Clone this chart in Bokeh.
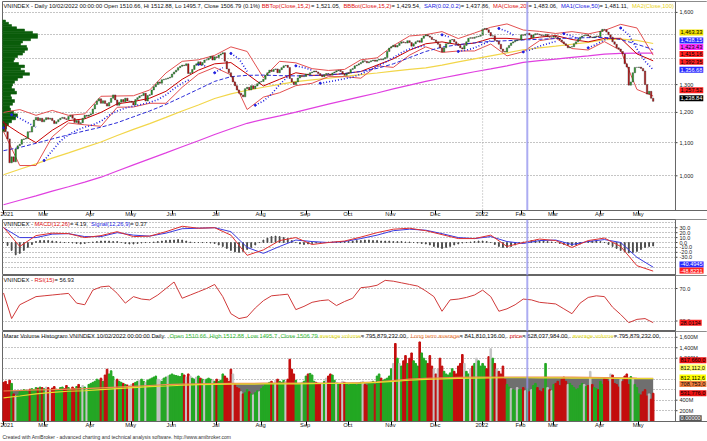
from bokeh.plotting import figure
from bokeh.models import Range1d, FixedTicker, Span, Title, ColumnDataSource
from bokeh.layouts import column
from bokeh.embed import file_html
from bokeh.resources import INLINE
from bokeh.core.properties import value

# ------------------------------------------------------------------ data
month_names = ["2021", "Feb", "Mar", "Apr", "May", "Jun", "Jul", "Aug", "Sep", "Oct",
               "Nov", "Dec", "2022", "Feb", "Mar", "Apr", "May"]
month_len = [5, 15, 23, 20, 20, 22, 22, 22, 21, 21, 22, 23, 19, 16, 23, 19, 8]

first_open = 1170
close_2021 = [
    1163, 1135, 1112, 1038, 1056,
    1041, 1080, 1090, 1095, 1110, 1112, 1114, 1135, 1134, 1152, 1174, 1183, 1172, 1180, 1168,
    1175, 1182, 1177, 1180, 1172, 1162, 1168, 1175, 1180, 1183, 1178, 1176, 1186, 1190, 1180, 1166, 1172, 1162, 1165, 1180, 1190, 1187, 1191,
    1195, 1212, 1228, 1240, 1248, 1232, 1241, 1231, 1222, 1235, 1250, 1262, 1244, 1225, 1236, 1245, 1237, 1250, 1240, 1239,
    1236, 1226, 1245, 1252, 1258, 1260, 1268, 1240, 1260, 1263, 1280, 1292, 1300, 1310, 1305, 1318, 1320, 1322, 1325, 1328,
    1340, 1348, 1355, 1365, 1370, 1375, 1373, 1380, 1342, 1345, 1358, 1374, 1380, 1388, 1375, 1385, 1395, 1396, 1402, 1410, 1395, 1408,
    1405, 1415, 1420, 1425, 1390, 1360, 1345, 1330, 1310, 1296, 1280, 1268, 1262, 1255, 1285, 1290, 1280, 1296, 1285, 1295, 1303, 1310,
    1312, 1320, 1335, 1345, 1355, 1350, 1358, 1360, 1345, 1357, 1365, 1372, 1374, 1366, 1323, 1310, 1300, 1310, 1325, 1335, 1330, 1331,
    1340, 1338, 1345, 1348, 1352, 1348, 1342, 1335, 1330, 1337, 1342, 1340, 1336, 1344, 1348, 1353, 1355, 1350, 1340, 1335, 1342,
    1345, 1358, 1362, 1372, 1375, 1380, 1385, 1392, 1390, 1384, 1388, 1392, 1395, 1390, 1395, 1398, 1396, 1400, 1405, 1430, 1444,
    1450, 1456, 1448, 1455, 1464, 1470, 1467, 1465, 1475, 1467, 1452, 1462, 1470, 1475, 1468, 1485, 1495, 1500, 1495, 1490, 1480, 1478,
    1470, 1460, 1445, 1428, 1445, 1462, 1465, 1478, 1480, 1470, 1462, 1455, 1445, 1440, 1455, 1470, 1485, 1488, 1485, 1490, 1492, 1494, 1498,
]
close_2022 = [
    1525, 1528, 1522, 1510, 1495, 1496, 1476, 1473, 1460, 1440, 1430, 1428, 1445, 1455, 1465, 1470, 1475, 1478, 1478,
    1500, 1498, 1503, 1507, 1499, 1487, 1500, 1505, 1503, 1500, 1497, 1496, 1502, 1492, 1490, 1490,
    1495, 1490, 1485, 1478, 1470, 1462, 1455, 1445, 1448, 1450, 1462, 1470, 1480, 1490, 1495, 1497, 1500, 1495, 1490, 1488, 1492, 1495, 1492,
    1515, 1524, 1522, 1512, 1500, 1490, 1470, 1460, 1445, 1440, 1430, 1420, 1380, 1367, 1298, 1310, 1345, 1366, 1366,
    1367, 1362, 1352, 1300, 1265, 1275, 1250, 1238.84,
]

volume_2021 = [
    740, 760, 700, 780, 720,
    520, 480, 500, 560, 580, 600, 590, 560, 610, 620, 600, 640, 630, 650, 640,
    620, 650, 640, 600, 630, 660, 610, 590, 640, 650, 620, 680, 640, 600, 650, 620, 660, 700, 640, 680, 650, 620, 700,
    720, 740, 760, 800, 780, 820, 760, 880, 990, 900, 960, 850, 780, 800, 760, 740, 720, 700, 690, 680,
    700, 720, 740, 760, 780, 800, 760, 740, 780, 800, 820, 840, 860, 800, 780, 760, 820, 840, 860, 880,
    900, 880, 870, 860, 850, 910, 880, 840, 900, 860, 820, 800, 840, 860, 820, 800, 780, 800, 820, 800, 780, 760,
    800, 760, 780, 900, 860, 820, 760, 990, 900, 700, 640, 620, 560, 520, 540, 600, 560, 520, 500, 540, 580, 560,
    620, 660, 700, 720, 740, 760, 720, 780, 800, 760, 740, 780, 760, 800, 1180, 990, 900, 780, 700, 720, 740, 760,
    860, 900, 910, 880, 760, 740, 720, 700, 720, 760, 820, 860, 900, 880, 780, 740, 720, 700, 760, 740, 720,
    680, 700, 720, 700, 680, 720, 740, 760, 700, 680, 720, 740, 760, 700, 860, 900, 820, 780, 800, 820, 860,
    1000, 1100, 1480, 1200, 1100, 1050, 1150, 1250, 1100, 1200, 1300, 1150, 1100, 1050, 1510, 1300, 1200, 1150, 1100, 1250, 1050, 1000,
    900, 1000, 1200, 1050, 950, 900, 880, 920, 1000, 950, 900, 1050, 1100, 1270, 1100, 950, 900, 1000, 1050, 1100, 1200, 1150, 1050,
]
volume_2022 = [
    1100, 1050, 1000, 1230, 1380, 1200, 1100, 1000, 950, 900, 1050, 800, 700, 650, 620, 600, 580, 640, 600,
    600, 640, 580, 620, 560, 600, 680, 720, 640, 580, 560, 620, 1100, 640, 600, 580,
    700, 720, 760, 680, 800, 840, 760, 700, 720, 680, 640, 600, 620, 680, 720, 700, 660, 680, 950, 700, 640, 620, 600,
    760, 700, 820, 800, 760, 900, 880, 720, 700, 650, 800, 760, 860, 900, 700, 850, 820, 700, 640,
    520, 500, 560, 600, 480, 520, 420, 532,
]
gray_bars = [6, 21, 23, 39, 41, 55, 62, 63, 67, 70, 76, 77, 81, 90, 92, 95, 99, 103, 113, 117,
             123, 126, 134, 139, 147, 157, 159, 164, 167, 177, 192, 195, 212, 214, 227, 230, 233,
             240, 243, 250, 253, 257, 260, 268, 270, 278, 286, 289, 299, 304, 310, 318]

# indicator lines sampled every 8 bars (bar 0, 8, ..., 320)
ma200 = [920, 932, 944, 957, 969, 982, 996, 1014, 1032, 1050, 1068, 1087, 1106, 1126, 1145, 1163, 1176,
         1188, 1201, 1215, 1229, 1242, 1256, 1269, 1284, 1298, 1312, 1325, 1337, 1349, 1360, 1372, 1386,
         1393, 1399, 1406, 1412, 1419, 1422, 1423, 1423]
ma100 = [1003, 1019, 1035, 1052, 1068, 1085, 1102, 1123, 1143, 1162, 1183, 1205, 1226, 1249, 1266, 1279,
         1290, 1301, 1311, 1318, 1324, 1331, 1338, 1344, 1351, 1358, 1364, 1375, 1388, 1400, 1412, 1424,
         1437, 1445, 1452, 1460, 1468, 1479, 1482, 1476, 1463]
ma50 = [1075, 1085, 1098, 1112, 1125, 1138, 1150, 1165, 1185, 1205, 1228, 1255, 1283, 1312, 1330, 1335,
        1336, 1334, 1333, 1334, 1337, 1342, 1350, 1362, 1380, 1405, 1430, 1448, 1458, 1466, 1472, 1475,
        1478, 1481, 1484, 1486, 1488, 1489, 1480, 1460, 1438]
ma20 = [1165, 1130, 1100, 1140, 1172, 1178, 1200, 1230, 1238, 1250, 1275, 1320, 1355, 1380, 1385, 1340,
        1295, 1320, 1345, 1335, 1336, 1342, 1350, 1375, 1400, 1435, 1462, 1470, 1458, 1465, 1485, 1485,
        1480, 1490, 1497, 1480, 1470, 1485, 1485, 1420, 1392]
bb_top = [1200, 1210, 1190, 1207, 1190, 1195, 1257, 1258, 1259, 1280, 1344, 1390, 1396, 1414, 1449, 1430,
          1326, 1390, 1384, 1361, 1354, 1358, 1396, 1404, 1454, 1495, 1501, 1514, 1484, 1508, 1533, 1548,
          1521, 1515, 1506, 1514, 1504, 1519, 1546, 1530, 1415]
bb_bot = [1136, 1030, 1030, 1119, 1164, 1158, 1153, 1218, 1219, 1232, 1232, 1290, 1340, 1366, 1337, 1210,
          1254, 1270, 1296, 1305, 1330, 1330, 1324, 1372, 1366, 1415, 1449, 1426, 1432, 1432, 1461, 1412,
          1429, 1475, 1486, 1442, 1436, 1471, 1434, 1282, 1258]
macd = [31, -8, 14, 19, 18, 10, 14, 22, 12, 13, 22, 33, 29, 30, 15, -26, -15, 4, 10, -4, 0, 3, 11, 20,
        27, 29, 24, 16, 8, 8, 15, -8, 0, 7, 4, -10, 4, 9, -8, -47, -58]
signal = [30, 10, 10, 17, 18, 12, 12, 20, 15, 13, 19, 28, 29, 30, 22, -10, -22, -8, 5, 2, 0, 2, 8, 15,
          24, 27, 25, 18, 10, 8, 12, 2, -2, 4, 5, -4, 2, 6, 0, -30, -50]
vol_avg = [445, 480, 520, 550, 570, 580, 600, 620, 640, 660, 670, 685, 695, 700, 705, 705, 710, 710, 712,
           715, 718, 720, 725, 740, 760, 780, 795, 805, 815, 820, 825, 828, 828, 826, 825, 822, 820, 818,
           815, 812, 812]
vol_long = [575, 585, 595, 600, 610, 620, 635, 650, 665, 680, 695, 705, 712, 718, 720, 722, 724, 725, 726,
            727, 728, 730, 735, 750, 775, 800, 815, 828, 836, 840, 842, 842, 842, 841, 840, 838, 835, 832,
            828, 822, 818]
# MACD histogram every 2 bars (0, 2, ..., 320)
macd_hist = [0, -6, -16, -25, -22, -16, -10, -4, 2, 4,
             4, 4, 3, 2, 1, 0, 0, -1, -2, -3,
             -2, 0, 1, 2, 3, 3, 3, 2, 2, 0,
             -2, -3, -3, -2, -1, 0, 0, 1, 2, 3,
             4, 5, 5, 6, 5, 3, 1, 0, 0, 0,
             0, -1, -2, -5, -8, -12, -16, -19, -20, -18,
             -14, -10, -5, 0, 5, 9, 12, 13, 12, 10,
             8, 4, 0, -3, -4, -3, -2, -1, 0, 0,
             1, 1, 1, 1, 2, 2, 3, 4, 4, 5,
             5, 4, 4, 3, 3, 3, 2, 2, 2, 1,
             1, 0, -1, -2, -3, -5, -8, -10, -12, -10,
             -8, -5, -3, -1, 0, 1, 2, 3, 3, 2,
             0, -4, -8, -10, -10, -8, -5, -2, 1, 3,
             4, 4, 3, 3, 2, 1, 0, -2, -4, -6,
             -6, -5, -3, 0, 2, 3, 3, 2, 0, -4,
             -8, -12, -16, -19, -21, -20, -18, -14, -10, -8,
             -7]
# RSI every 4 bars (0, 4, ..., 320)
rsi = [64.5, 33, 50, 55, 60, 61, 62, 63, 64, 52,
       50, 68, 72, 73, 64, 52, 60, 57, 56, 62,
       70, 78, 58, 62, 66, 70, 75, 60, 39, 33,
       35, 46, 55, 61, 62, 63, 44, 48, 53, 55,
       56, 49, 54, 58, 71, 72, 74, 80, 79, 77,
       75, 73, 67, 60, 42, 56, 57, 59, 62, 68,
       60, 42, 45, 50, 57, 56, 53, 52, 51, 45,
       39, 52, 59, 61, 60, 47, 38, 28, 32, 33,
       28]
# SAR segments: (first bar, values every 4 bars)
sar_segments = [
    (0, [1148]), (4, [1192, 1180, 1165, 1150]),
    (20, [1045, 1075, 1105, 1125, 1140, 1150, 1158, 1170, 1190, 1205, 1215, 1222, 1228, 1235, 1245, 1262, 1285, 1305, 1320]),
    (96, [1378, 1370]), (104, [1345, 1365]), (112, [1422, 1400, 1350]),
    (124, [1225, 1240, 1265, 1300, 1330]), (144, [1372, 1365, 1355]),
    (156, [1305, 1310, 1316, 1322, 1328, 1340, 1355, 1370, 1385, 1405, 1425, 1440, 1448, 1455]),
    (216, [1500, 1490]), (224, [1430, 1435, 1445, 1460, 1475]), (244, [1528, 1515, 1495]),
    (256, [1428, 1438, 1452, 1462, 1472]), (276, [1505, 1495, 1480]),
    (288, [1445, 1460, 1478, 1495]), (304, [1530, 1500, 1440, 1390, 1357]),
]
# volume-at-price profile (price level, relative volume)
profile_price = list(range(1140, 1561, 10))
profile_vol = [2, 4, 6, 9, 13, 15, 11, 8, 7, 10, 12, 9, 8, 14, 12, 9, 10, 12, 15, 20, 27, 22, 18, 22,
               16, 11, 12, 15, 20, 22, 25, 24, 18, 20, 28, 35, 35, 30, 22, 14, 9, 6, 3]
selected_bar = 258
year_bar = 236

price_ticks = [1000, 1100, 1200, 1300, 1600]
price_grid = [1000, 1100, 1200, 1300, 1400, 1500, 1600]
macd_ticks = [-30, -20, -10, 0, 10, 20, 30]
macd_grid = [-50, -40, -30, -20, -10, 0, 10, 20, 30, 40]
rsi_ticks = [30, 70]
vol_ticks = [200, 400, 1200, 1400, 1600]
vol_grid = [200, 400, 600, 800, 1000, 1200, 1400, 1600]

# value boxes at the right edge: (value, text, background, text colour, lift in px)
price_boxes = [(1463.33, "1,463.33", "#f2e200", "black", 11), (1438.15, "1,438.15", "#2a2aff", "white", 9),
               (1423.43, "1,423.43", "#ff30ff", "black", 6), (1415.16, "1,415.16", "#ff2020", "black", 1),
               (1392.35, "1,392.35", "#ff2020", "black", -1), (1356.68, "1,356.68", "#2a2aff", "white", 0),
               (1257.52, "1,257.52", "#ff2020", "black", 6), (1238.84, "1,238.84", "#000000", "white", 3)]
macd_boxes = [(-40.4945, "-40.4945", "#2a2aff", "white", -2), (-48.8231, "-48.8231", "#ff2020", "white", -4)]
rsi_boxes = [(28.0134, "28.0134", "#ff2020", "black", 0)]
vol_boxes = [(817.66, "817,660,0", "#ee1111", "black", 18), (812.11, "812,112,0", "#ffff60", "black", 11),
             (812.11, "812,112,6", "#ffff00", "black", 1), (708.75, "708,753,0", "#f08040", "black", 0),
             (531.78, "531,776,0", "#ee1111", "black", 0), (0.0, "0.00000", "#555555", "white", 3)]

# ------------------------------------------------------------------ prep
close = close_2021 + close_2022
volume = volume_2021 + volume_2022
N = len(close)
assert N == sum(month_len) == len(volume), (N, sum(month_len), len(volume))
idx = list(range(N))
idx8 = list(range(0, N, 8))
idx4 = list(range(0, N, 4))
idx2 = list(range(0, N, 2))
for arr in (ma200, ma100, ma50, ma20, bb_top, bb_bot, macd, signal, vol_avg, vol_long):
    assert len(arr) == len(idx8), len(arr)
assert len(rsi) == len(idx4) and len(macd_hist) == len(idx2)
assert len(profile_vol) == len(profile_price)

opens = [first_open] + close[:-1]
GREEN, RED, SILVER = "#23a823", "#c40d0d", "#c4c4c4"
candle_col = [GREEN if c >= o else RED for o, c in zip(opens, close)]
vol_col = [SILVER if i in gray_bars else (GREEN if close[i] >= opens[i] else RED) for i in idx]

starts, s = [], 0
for n in month_len:
    starts.append(s)
    s += n
month_ticks = [st for st, nm in zip(starts, month_names) if not (nm == "Feb" and st < 236)]
month_over = {st: " " + nm for st, nm in zip(starts, month_names)}

FONT = "Liberation Sans"
AW = {c: 556 for c in "0123456789"}
AW.update({' ': 278, ',': 278, '.': 278, ':': 278, '/': 278, '-': 333, '(': 333, ')': 333, '=': 584, '%': 889,
           'A': 667, 'B': 667, 'C': 722, 'D': 722, 'E': 667, 'F': 611, 'G': 778, 'H': 722, 'I': 278, 'J': 500,
           'K': 667, 'L': 556, 'M': 833, 'N': 722, 'O': 778, 'P': 667, 'Q': 778, 'R': 722, 'S': 667, 'T': 611,
           'U': 722, 'V': 667, 'W': 944, 'X': 667, 'Y': 667, 'Z': 611, 'a': 556, 'b': 556, 'c': 500, 'd': 556,
           'e': 556, 'f': 278, 'g': 556, 'h': 556, 'i': 222, 'j': 222, 'k': 500, 'l': 222, 'm': 833, 'n': 556,
           'o': 556, 'p': 556, 'q': 556, 'r': 333, 's': 500, 't': 278, 'u': 556, 'v': 500, 'w': 722, 'x': 500,
           'y': 500, 'z': 500})


def tw(s, size):
    return sum(AW.get(ch, 556) for ch in s) * size / 1000.0


PX = 2.03                 # pixels per bar
LAST = 331                # right edge of the bar area (data units)
XR = Range1d(-0.5, LAST + 32 / PX)
TS = 5.8


def make_fig(h, yr, top, bottom, xaxis, log=False):
    p = figure(width=707, height=h, x_range=XR, y_range=yr, y_axis_type="log" if log else "linear",
               output_backend="svg", toolbar_location=None, y_axis_location=None,
               x_axis_location="below" if xaxis else None,
               min_border_left=2, min_border_right=0, min_border_top=top, min_border_bottom=bottom)
    p.outline_line_color = "#666666"
    p.background_fill_color = "white"
    p.border_fill_color = "white"
    p.xgrid.visible = False
    p.ygrid.grid_line_dash = "1 2"
    p.ygrid.grid_line_color = "#8a8a8a"
    if xaxis:
        ax = p.xaxis[0]
        ax.ticker = FixedTicker(ticks=month_ticks)
        ax.major_label_overrides = month_over
        ax.major_label_text_align = "left"
        ax.major_label_text_font = FONT
        ax.major_label_text_font_size = "5.8px"
        ax.major_label_text_color = "#222222"
        ax.major_tick_in = 0
        ax.major_tick_out = 4
        ax.major_label_standoff = -4
        ax.minor_tick_line_color = None
        ax.axis_line_color = "#666666"
    return p


def right_scale(p, yr, ticks, labels, grid):
    """white label column right of the bars, with its divider, tick marks and tick labels"""
    p.ygrid.ticker = FixedTicker(ticks=grid)
    p.quad(left=[LAST], right=[XR.end], bottom=[yr.start], top=[yr.end], fill_color="white",
           line_color=None)
    p.add_layout(Span(location=LAST, dimension="height", line_color="#666666", line_width=1))
    p.segment(x0=[LAST] * len(ticks), x1=[LAST + 2 / PX] * len(ticks), y0=ticks, y1=ticks,
              line_color="#444444", line_width=1)
    p.text(x=[LAST + 4 / PX] * len(ticks), y=ticks, text=labels, text_font=value(FONT),
           text_font_size="5.5px", text_color="#222222", text_baseline="middle", text_align="left")


def panel_title(p, segs, ytop):
    off = 1.0
    d = dict(x=[], y=[], text=[], color=[], xo=[])
    for t, c in segs:
        d["x"].append(XR.start); d["y"].append(ytop); d["text"].append(t)
        d["color"].append(c); d["xo"].append(off)
        off += tw(t, TS)
    p.text(x="x", y="y", text="text", text_color="color", x_offset="xo", y_offset=1,
           source=ColumnDataSource(d), text_font=value(FONT), text_font_size=f"{TS}px",
           text_baseline="top", text_align="left")


def boxes(p, items):
    d = dict(x=[LAST + 4 / PX] * len(items), y=[it[0] for it in items], text=[it[1] for it in items],
             bg=[it[2] for it in items], fg=[it[3] for it in items], dy=[-it[4] for it in items])
    p.text(x="x", y="y", text="text", text_color="fg", background_fill_color="bg", y_offset="dy",
           padding=1, source=ColumnDataSource(d), text_font=value(FONT), text_font_size="5.6px",
           text_baseline="middle", text_align="left")


def sel_lines(p, year=False):
    p.add_layout(Span(location=selected_bar, dimension="height", line_color="#9090ee",
                      line_width=2, line_alpha=0.75))
    if year:
        p.add_layout(Span(location=year_bar, dimension="height", line_color="#aaaaaa",
                          line_width=1, line_dash="1 2"))


# ------------------------------------------------------------------ price pane
yr1 = Range1d(905, 1651)
p1 = make_fig(219, yr1, 1, 8, True, log=True)
sel_lines(p1, year=True)
right_scale(p1, yr1, price_ticks, [f"{t:,}" for t in price_ticks], price_grid)

p1.quad(left=[XR.start] * len(profile_price), right=[XR.start + v / PX for v in profile_vol],
        bottom=[pp - 5 for pp in profile_price], top=[pp + 5 for pp in profile_price],
        fill_color="#0b5d0b", line_color="#0b5d0b", line_width=0.6)
p1.line(idx8, ma200, line_color="#e040e0", line_width=1.2)
p1.line(idx8, ma100, line_color="#f2d64a", line_width=1.2)
p1.line(idx8, bb_top, line_color="#e35050", line_width=1)
p1.line(idx8, bb_bot, line_color="#e35050", line_width=1)
p1.line(idx8, ma20, line_color="#c80000", line_width=1)
p1.line(idx8, ma50, line_color="#2b2bd8", line_width=1, line_dash="4 2")
p1.multi_line(xs=[[st + 4 * k for k in range(len(v))] for st, v in sar_segments],
              ys=[v for st, v in sar_segments], line_color="#2020e0", line_width=1.6, line_dash="1 2")
p1.scatter([st for st, v in sar_segments], [v[0] for st, v in sar_segments], size=2, color="#2020e0")
p1.vbar(x=idx, width=0.72, bottom=[min(o, c) for o, c in zip(opens, close)],
        top=[max(o, c) for o, c in zip(opens, close)], fill_color=candle_col,
        line_color="#2a2a2a", line_width=0.4)

panel_title(p1, [
    ("VNINDEX - Daily 10/02/2022 00:00:00 Open 1510.66, Hi 1512.88, Lo 1495.7, Close 1506.79 (0.1%) ", "#111111"),
    ("BBTop(Close,15,2)", "#e01010"), (" = 1,521.05, ", "#111111"),
    ("BBBot(Close,15,2)", "#e01010"), (" = 1,429.54, ", "#111111"),
    ("SAR(0.02,0.2)", "#2020e0"), (" = 1,437.86, ", "#111111"),
    ("MA(Close,20)", "#e01010"), (" = 1,483.06, ", "#111111"),
    ("MA1(Close,50)", "#2020e0"), (" = 1,481.11, ", "#111111"),
    ("MA2(Close,100)", "#e8d020")], yr1.end)
boxes(p1, price_boxes)

# ------------------------------------------------------------------ MACD pane
yr2 = Range1d(-66.9, 46.7)
p2 = make_fig(56, yr2, 0, 0, False)
sel_lines(p2)
right_scale(p2, yr2, macd_ticks, [f"{t:.1f}" for t in macd_ticks], macd_grid)
p2.vbar(x=idx2, width=0.4, bottom=0, top=macd_hist, color="#4a4a4a")
p2.line(idx8, signal, line_color="#3a3ae0", line_width=1)
p2.line(idx8, macd, line_color="#e03030", line_width=1)
panel_title(p2, [("VNINDEX - ", "#111111"), ("MACD(12,26)", "#e01010"), (" = 4.19, ", "#111111"),
                 ("Signal(12,26,9)", "#2020e0"), (" = 0.37", "#111111")], yr2.end)
boxes(p2, macd_boxes)

# ------------------------------------------------------------------ RSI pane
yr3 = Range1d(17.1, 86)
p3 = make_fig(56, yr3, 0, 0, False)
sel_lines(p3)
right_scale(p3, yr3, rsi_ticks, [f"{t:.1f}" for t in rsi_ticks], rsi_ticks)
p3.line(idx4, rsi, line_color="#d03a3a", line_width=1)
panel_title(p3, [("VNINDEX - ", "#111111"), ("RSI(15)", "#e01010"), (" = 56.93", "#111111")], yr3.end)
boxes(p3, rsi_boxes)

# ------------------------------------------------------------------ volume pane
yr4 = Range1d(-6, 1709)
p4 = make_fig(110, yr4, 0, 20, True)
sel_lines(p4)
right_scale(p4, yr4, vol_ticks, [f"{t:,}M" for t in vol_ticks], vol_grid)
p4.varea(x=idx8, y1=[0] * len(idx8), y2=vol_long, fill_color="#6f6f6f")
p4.vbar(x=idx, width=0.78, bottom=0, top=volume, color=vol_col)
p4.line(idx8, vol_long, line_color="#f08a50", line_width=1.2)
p4.line(idx8, vol_avg, line_color="#e8dc30", line_width=1.2)
panel_title(p4, [("Marar Volume Histogram  VNINDEX 10/02/2022 00:00:00 Daily ", "#111111"),
                 (",Open 1510.66 ,High 1512.88 ,Low 1495.7 ,Close 1506.79 ", "#33bb33"),
                 ("average volume", "#e8e020"), (" = 795,879,232.00, ", "#111111"),
                 ("Long term average", "#f07830"), (" = 841,810,136.00, ", "#111111"),
                 ("price", "#e01010"), (" = 628,037,984.00, ", "#111111"),
                 ("average volume", "#e8e020"), (" = 795,879,232.00,", "#111111")], yr4.end)
boxes(p4, vol_boxes)
p4.add_layout(Title(text="Created with AmiBroker - advanced charting and technical analysis software. http://www.amibroker.com",
                    text_font=FONT, text_font_size="5px", text_font_style="normal", text_color="#333333",
                    align="left", standoff=3), "below")

layout = column(p1, p2, p3, p4, spacing=0)
open("out.html", "w").write(file_html(layout, INLINE))
